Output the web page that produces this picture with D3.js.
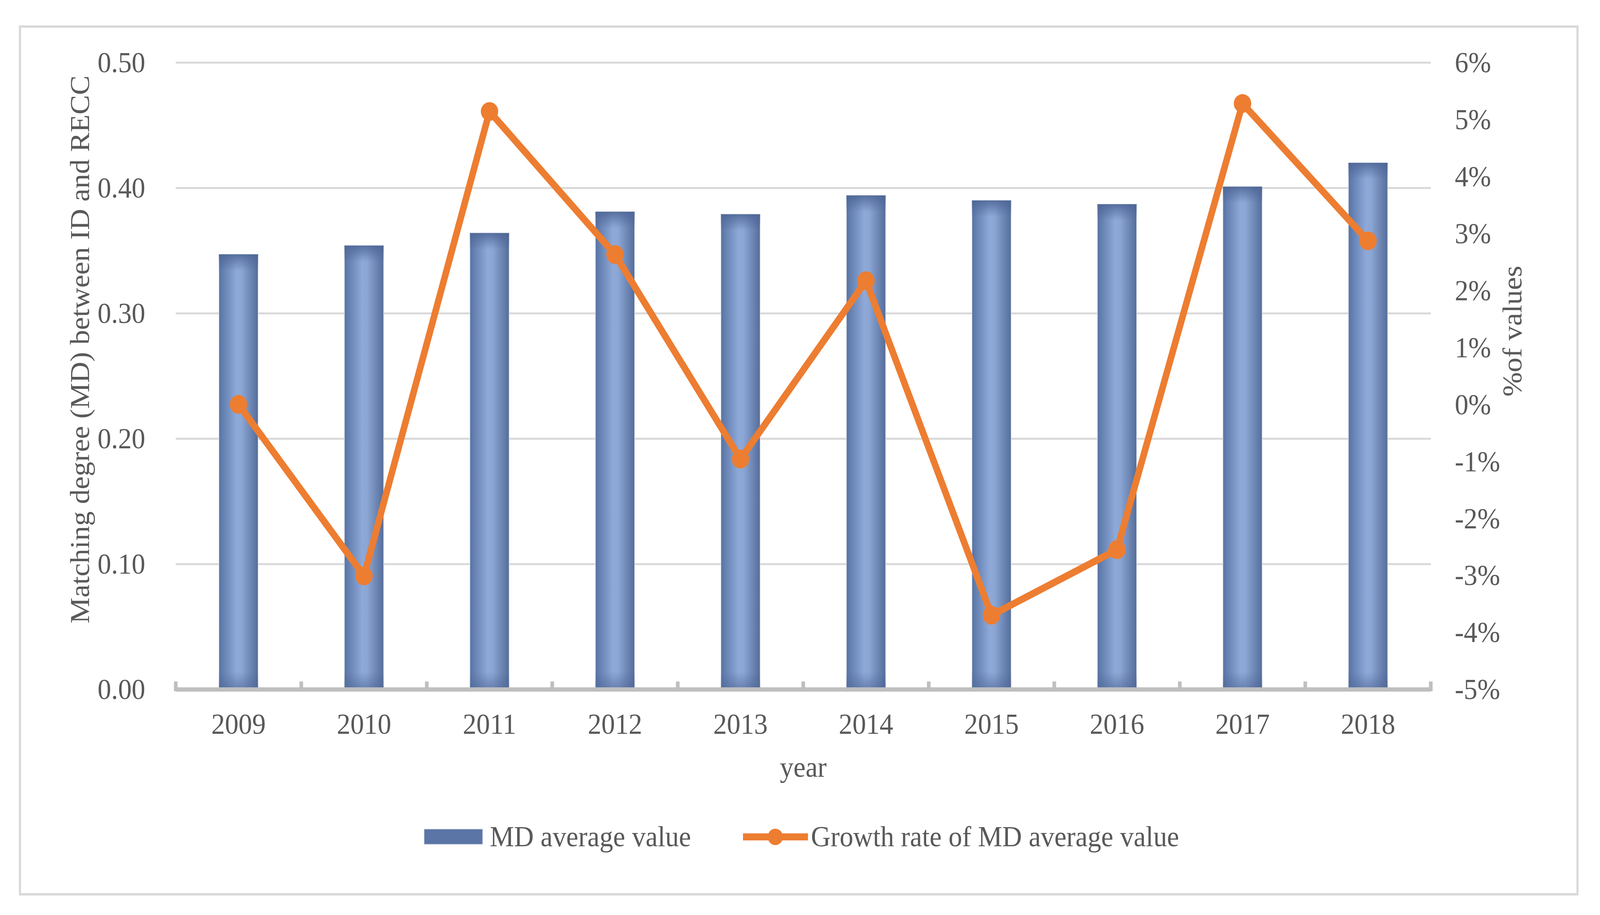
<!DOCTYPE html>
<html>
<head>
<meta charset="utf-8">
<script src="https://cdn.jsdelivr.net/npm/d3@7"></script>
<style>
  html, body { margin: 0; padding: 0; background: #ffffff; overflow: hidden; width: 100%; height: 100%; }
  svg { display: block; width: 100vw; height: 100vh; }
  text { font-family: "Liberation Serif", "Times New Roman", serif; fill: #595959; }
</style>
</head>
<body>
<script>
// ---- data ----
const years = ["2009","2010","2011","2012","2013","2014","2015","2016","2017","2018"];
const mdAverage = [0.347, 0.354, 0.364, 0.381, 0.379, 0.394, 0.390, 0.387, 0.401, 0.420];
const growthRate = [0.00, -3.01, 5.14, 2.63, -0.96, 2.17, -3.70, -2.55, 5.28, 2.87]; // percent
const leftTicks = [0.00, 0.10, 0.20, 0.30, 0.40, 0.50];
const rightTicks = [-5, -4, -3, -2, -1, 0, 1, 2, 3, 4, 5, 6];
const seriesNames = ["MD average value", "Growth rate of MD average value"];
const leftTitle = "Matching degree (MD) between ID and RECC";
const rightTitle = "%of values";
const xTitle = "year";

const W = 4406, H = 2343;
const FS = 75;
const plot = { left: 484, right: 3940, top: 160, bottom: 1765 };

const svg = d3.select("body").append("svg")
  .attr("viewBox", `0 0 ${W} ${H}`)
  .attr("preserveAspectRatio", "none");

// defs: gradients
const defs = svg.append("defs");
const hg = defs.append("linearGradient").attr("id", "barH").attr("x1", "0").attr("x2", "1").attr("y1", "0").attr("y2", "0");
[["0%", "#5873a3"], ["18%", "#6d89ba"], ["45%", "#8ea9d7"], ["58%", "#8ba6d4"], ["85%", "#6881af"], ["100%", "#556d9b"]]
  .forEach(([o, c]) => hg.append("stop").attr("offset", o).attr("stop-color", c));
const topG = defs.append("linearGradient").attr("id", "barTop").attr("x1", "0").attr("x2", "0").attr("y1", "0").attr("y2", "1");
topG.append("stop").attr("offset", "0%").attr("stop-color", "#4d6595").attr("stop-opacity", 0.85);
topG.append("stop").attr("offset", "100%").attr("stop-color", "#4d6595").attr("stop-opacity", 0);
const botG = defs.append("linearGradient").attr("id", "barBot").attr("x1", "0").attr("x2", "0").attr("y1", "0").attr("y2", "1");
botG.append("stop").attr("offset", "0%").attr("stop-color", "#4d6595").attr("stop-opacity", 0);
botG.append("stop").attr("offset", "100%").attr("stop-color", "#4d6595").attr("stop-opacity", 0.6);

// background + outer border
svg.append("rect").attr("x", 0).attr("y", 0).attr("width", W).attr("height", H).attr("fill", "#ffffff");
svg.append("rect").attr("x", 55).attr("y", 68).attr("width", 4289).attr("height", 2222)
  .attr("fill", "#ffffff").attr("stroke", "#d9d9d9").attr("stroke-width", 6);

// scales
const x = d3.scaleBand().domain(years).range([plot.left, plot.right]).paddingInner(0.6875).paddingOuter(0.34375);
const xPoint = d => x(d) + x.bandwidth() / 2;
const yL = d3.scaleLinear().domain([0, 0.5]).range([plot.bottom, plot.top]);
const yR = d3.scaleLinear().domain([-5, 6]).range([plot.bottom, plot.top]);

// gridlines
const grid = svg.append("g").attr("transform", `translate(${plot.left},0)`)
  .call(d3.axisLeft(yL).tickValues(leftTicks.filter(v => v > 0)).tickSize(-(plot.right - plot.left)).tickFormat(""));
grid.select(".domain").remove();
grid.selectAll("line").attr("stroke", "#d9d9d9").attr("stroke-width", 5);

// left axis labels
const la = svg.append("g").attr("transform", `translate(${plot.left},0)`)
  .call(d3.axisLeft(yL).tickValues(leftTicks).tickSize(0).tickPadding(84).tickFormat(d3.format(".2f")));
la.select(".domain").remove();
la.selectAll("text").attr("font-size", FS).attr("dy", "0.33em").style("fill", "#595959")
  .style("font-family", '"Liberation Serif", "Times New Roman", serif');

// right axis labels
const ra = svg.append("g").attr("transform", `translate(${plot.right},0)`)
  .call(d3.axisRight(yR).tickValues(rightTicks).tickSize(0).tickPadding(66).tickFormat(d => d + "%"));
ra.select(".domain").remove();
ra.selectAll("text").attr("font-size", FS).attr("dy", "0.33em").style("fill", "#595959")
  .style("font-family", '"Liberation Serif", "Times New Roman", serif');

// bars
const bars = svg.append("g");
years.forEach((yr, i) => {
  const bx = x(yr), bw = x.bandwidth(), by = yL(mdAverage[i]), bh = yL(0) - yL(mdAverage[i]);
  bars.append("rect").attr("x", bx).attr("y", by).attr("width", bw).attr("height", bh)
    .attr("fill", "url(#barH)").attr("stroke", "#dfe3ea").attr("stroke-width", 1.5);
  bars.append("rect").attr("x", bx).attr("y", by).attr("width", bw).attr("height", 42).attr("fill", "url(#barTop)");
  bars.append("rect").attr("x", bx).attr("y", yL(0) - 45).attr("width", bw).attr("height", 45).attr("fill", "url(#barBot)");
});

// x axis line + ticks
svg.append("line").attr("x1", plot.left).attr("x2", plot.right).attr("y1", plot.bottom + 0.5).attr("y2", plot.bottom + 0.5)
  .attr("stroke", "#bfbfbf").attr("stroke-width", 11);
const step = x.step();
d3.range(years.length + 1).forEach(k => {
  const tx = plot.left + k * step;
  svg.append("line").attr("x1", tx).attr("x2", tx).attr("y1", plot.bottom - 20).attr("y2", plot.bottom + 5)
    .attr("stroke", "#bfbfbf").attr("stroke-width", 10);
});

// x labels via axis
const xa = svg.append("g").attr("transform", `translate(0,${plot.bottom})`)
  .call(d3.axisBottom(x).tickSize(0));
xa.select(".domain").remove();
xa.selectAll("text").attr("font-size", FS).attr("y", 114).attr("dy", 0).style("fill", "#595959")
  .style("font-family", '"Liberation Serif", "Times New Roman", serif');

// line series
const line = d3.line().x((d, i) => xPoint(years[i])).y(d => yR(d));
svg.append("path").datum(growthRate).attr("d", line).attr("fill", "none")
  .attr("stroke", "#ED7D31").attr("stroke-width", 18).attr("stroke-linejoin", "round");
svg.append("g").selectAll("circle").data(growthRate).join("circle")
  .attr("cx", (d, i) => xPoint(years[i])).attr("cy", d => yR(d)).attr("r", 24).attr("fill", "#ED7D31");

// axis titles
svg.append("text").attr("transform", "translate(245,895) rotate(-90)").attr("text-anchor", "middle")
  .attr("font-size", FS).text(leftTitle);
svg.append("text").attr("transform", "translate(4190,848) rotate(-90)").attr("text-anchor", "middle")
  .attr("font-size", FS).text(rightTitle);
svg.append("text").attr("x", (plot.left + plot.right) / 2).attr("y", 1989).attr("text-anchor", "middle")
  .attr("font-size", FS).text(xTitle);

// legend
const lg = svg.append("g");
lg.append("rect").attr("x", 1168).attr("y", 2123).attr("width", 161).attr("height", 39)
  .attr("fill", "#5a75a6").attr("stroke", "#c9d2e2").attr("stroke-width", 1.5);
lg.append("text").attr("x", 1349).attr("y", 2167).attr("font-size", FS).text(seriesNames[0]);
lg.append("line").attr("x1", 2046).attr("x2", 2225).attr("y1", 2143).attr("y2", 2143)
  .attr("stroke", "#ED7D31").attr("stroke-width", 18);
lg.append("circle").attr("cx", 2135).attr("cy", 2143).attr("r", 21).attr("fill", "#ED7D31");
lg.append("text").attr("x", 2233).attr("y", 2167).attr("font-size", FS).text(seriesNames[1]);
</script>
</body>
</html>
